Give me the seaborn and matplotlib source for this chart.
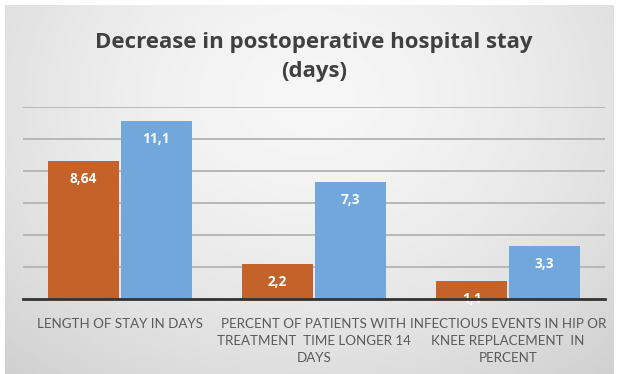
import numpy as np
import pandas as pd
import matplotlib
matplotlib.use("Agg")
import matplotlib.pyplot as plt
import seaborn as sns

categories = [
    "LENGTH OF STAY IN DAYS",
    "PERCENT OF PATIENTS WITH\nTREATMENT  TIME LONGER 14\nDAYS",
    "INFECTIOUS EVENTS IN HIP OR\nKNEE REPLACEMENT  IN\nPERCENT",
]
series_names = ["After", "Before"]
after_values = [8.64, 2.2, 1.1]
before_values = [11.1, 7.3, 3.3]
value_labels_after = ["8,64", "2,2", "1,1"]
value_labels_before = ["11,1", "7,3", "3,3"]
title_text = "Decrease in postoperative hospital stay\n(days)"

colors = ["#C5622A", "#71A7DA"]

df = pd.DataFrame({
    "category": categories * 2,
    "series": [series_names[0]] * 3 + [series_names[1]] * 3,
    "value": after_values + before_values,
})

sns.set_theme(style="white")
W, H = 619, 374
fig = plt.figure(figsize=(W / 100, H / 100), dpi=100)
fig.patch.set_facecolor("white")

# gradient background panel
bg = fig.add_axes([5 / W, 0, 609 / W, 369 / H], zorder=0)
yy, xx = np.mgrid[0:1:200j, 0:1:300j]
r = np.sqrt(((xx - 0.5) / 0.75) ** 2 + ((yy - 0.25) / 1.0) ** 2)
val = 0.965 - 0.15 * np.clip(r, 0, 1.2) ** 1.6
bg.imshow(val, cmap="gray", vmin=0, vmax=1, aspect="auto", extent=[0, 1, 1, 0],
          interpolation="bilinear")
bg.set_axis_off()

ax = fig.add_axes([23 / W, 75 / H, (605 - 23) / W, (299 - 107) / H], zorder=1)
ax.patch.set_alpha(0)
sns.barplot(data=df, x="category", y="value", hue="series", palette=colors,
            width=0.75, gap=0.03, saturation=1, ax=ax, legend=False,
            edgecolor="none")
ax.set_ylim(0, 12)
ax.set_yticks([2, 4, 6, 8, 10, 12])
ax.yaxis.grid(True, color="#b3b3b3", linewidth=1.3)
ax.set_axisbelow(True)
ax.tick_params(axis="y", left=False, labelleft=False)
ax.tick_params(axis="x", bottom=False, pad=8)
for s in ["top", "right", "left"]:
    ax.spines[s].set_visible(False)
ax.spines["bottom"].set_color("#333333")
ax.spines["bottom"].set_linewidth(2)
ax.spines["bottom"].set_zorder(5)
ax.set_xlabel("")
ax.set_ylabel("")
ax.set_xlim(-0.5, 2.5)
for lab in ax.get_xticklabels():
    lab.set_fontfamily("Lato")
    lab.set_fontsize(9.6)
    lab.set_color("#595959")
    lab.set_linespacing(1.5)

labels_all = [value_labels_after, value_labels_before]
for cont, labs in zip(ax.containers, labels_all):
    for bar, lab in zip(cont, labs):
        ax.annotate(lab, (bar.get_x() + bar.get_width() / 2, bar.get_height()),
                    xytext=(0, -13), textcoords="offset points",
                    ha="center", va="center", color="white",
                    fontsize=9.8, fontweight="bold", family="Open Sans")

fig.text(314 / W, 1 - 57 / H, title_text, ha="center", va="center",
         fontsize=16, fontweight="bold", family="Open Sans", color="#404040",
         linespacing=1.45)

fig.savefig("out.png", dpi=100)
